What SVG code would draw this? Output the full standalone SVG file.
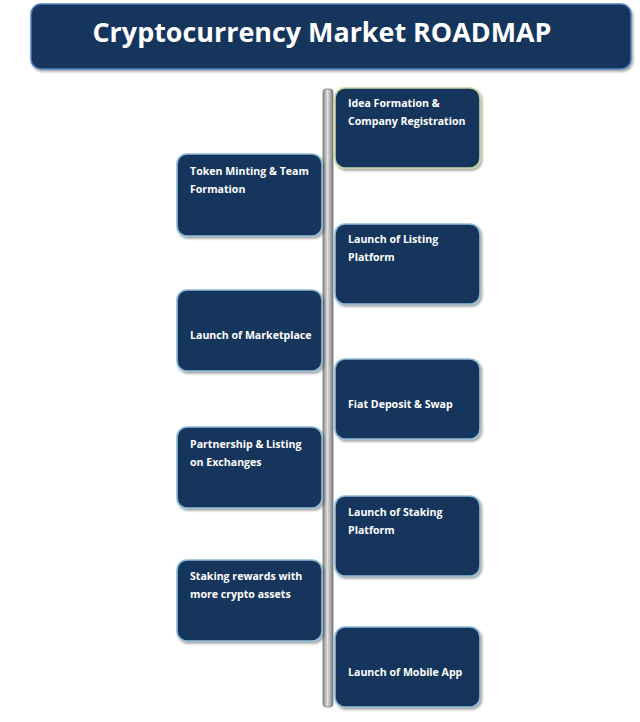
<svg xmlns="http://www.w3.org/2000/svg" width="640" height="722" viewBox="0 0 640 722">
<defs>
<linearGradient id="bar" x1="0" y1="0" x2="1" y2="0">
<stop offset="0" stop-color="#8a8a8a"/>
<stop offset="0.45" stop-color="#e0e0e0"/>
<stop offset="1" stop-color="#7a7a7a"/>
</linearGradient>
<filter id="sh" x="-10%" y="-10%" width="125%" height="130%">
<feDropShadow dx="1.5" dy="2" stdDeviation="1.2" flood-color="#000" flood-opacity="0.35"/>
</filter>
</defs>
<style>
.box{fill:#17365d;stroke:#8fbcd6;stroke-width:1.6;filter:url(#sh)}
.t{fill:#fff;font-family:"Open Sans","Liberation Sans",sans-serif;font-weight:bold;font-size:10.6px}
.title{fill:#fff;font-family:"Open Sans","Liberation Sans",sans-serif;font-weight:bold;font-size:26.9px}
</style>
<g id="title">
<rect x="31" y="4" width="600" height="65" rx="10" fill="#17365d" stroke="#4f81bd" stroke-width="1.5" filter="url(#sh)"/>
<text class="title" x="322" y="42" text-anchor="middle">Cryptocurrency Market ROADMAP</text>
</g>
<g id="connectors">
<rect x="323" y="89" width="10" height="618" rx="3" fill="url(#bar)" stroke="#777" stroke-width="0.8"/>
</g>
<g id="n1"><rect class="box" x="335" y="88" width="145" height="80" rx="10" style="stroke:#c3d69b"/>
<text class="t" x="348" y="107">Idea Formation &amp;</text><text class="t" x="348" y="125">Company Registration</text></g>
<g id="n2"><rect class="box" x="177" y="154" width="145" height="82" rx="10"/>
<text class="t" x="190" y="175">Token Minting &amp; Team</text><text class="t" x="190" y="193">Formation</text></g>
<g id="n3"><rect class="box" x="335" y="224" width="145" height="80" rx="10"/>
<text class="t" x="348" y="243">Launch of Listing</text><text class="t" x="348" y="261">Platform</text></g>
<g id="n4"><rect class="box" x="177" y="290" width="145" height="81" rx="10"/>
<text class="t" x="190" y="339">Launch of Marketplace</text></g>
<g id="n5"><rect class="box" x="335" y="359" width="145" height="80" rx="10"/>
<text class="t" x="348" y="408">Fiat Deposit &amp; Swap</text></g>
<g id="n6"><rect class="box" x="177" y="427" width="145" height="81" rx="10"/>
<text class="t" x="190" y="448">Partnership &amp; Listing</text><text class="t" x="190" y="466">on Exchanges</text></g>
<g id="n7"><rect class="box" x="335" y="496" width="145" height="80" rx="10"/>
<text class="t" x="348" y="516">Launch of Staking</text><text class="t" x="348" y="534">Platform</text></g>
<g id="n8"><rect class="box" x="177" y="560" width="145" height="81" rx="10"/>
<text class="t" x="190" y="580">Staking rewards with</text><text class="t" x="190" y="598">more crypto assets</text></g>
<g id="n9"><rect class="box" x="335" y="627" width="145" height="80" rx="10"/>
<text class="t" x="348" y="676">Launch of Mobile App</text></g>
</svg>
